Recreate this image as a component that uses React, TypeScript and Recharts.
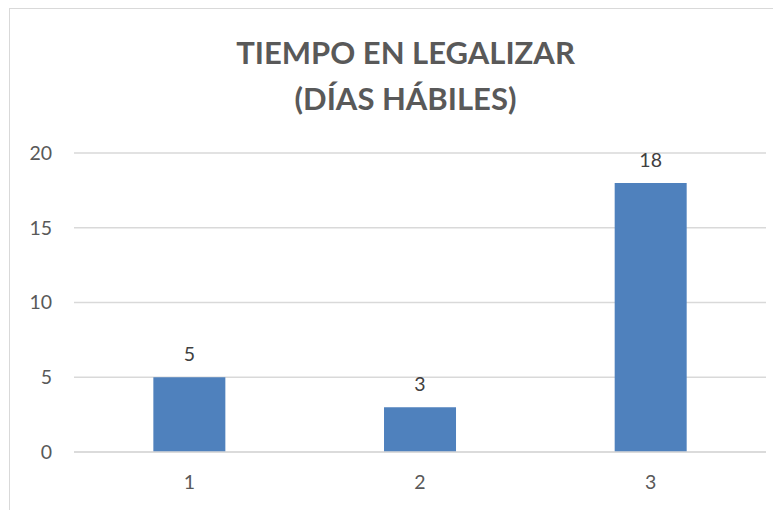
import React from "react";
import { BarChart, Bar, XAxis, YAxis, CartesianGrid, LabelList } from "recharts";

const categories = ["1", "2", "3"];
const values = [5, 3, 18];
const yTicks = [0, 5, 10, 15, 20];
const titleLines = ["TIEMPO EN LEGALIZAR", "(DÍAS HÁBILES)"];

const data = categories.map((c, i) => ({ name: c, value: values[i] }));

const FONT = "Lato, 'Open Sans', sans-serif";

export default function App() {
  return (
    <div style={{ position: "relative", width: 773, height: 502, overflow: "hidden", background: "#fff" }}>
      <div
        style={{
          position: "absolute",
          left: 1,
          top: 0,
          width: 900,
          height: 600,
          border: "1.5px solid #d9d9d9",
          boxSizing: "border-box",
        }}
      />
      <div
        style={{
          position: "absolute",
          left: 0,
          top: 21,
          width: 795,
          textAlign: "center",
          fontFamily: FONT,
          fontWeight: 700,
          fontSize: 31,
          lineHeight: "46px",
          color: "#595959",
        }}
      >
        {titleLines.map((l) => (
          <div key={l}>{l}</div>
        ))}
      </div>
      <div style={{ position: "absolute", left: 0, top: 0 }}>
        <BarChart
          width={773}
          height={502}
          data={data}
          margin={{ top: 145, right: 15, left: 0, bottom: 0 }}
          barCategoryGap="34.4%"
        >
          <CartesianGrid vertical={false} stroke="#d9d9d9" strokeWidth={1.3} />
          <XAxis
            dataKey="name"
            height={58}
            axisLine={{ stroke: "#d9d9d9", strokeWidth: 1.3 }}
            tickLine={false}
            tickSize={0}
            tickMargin={23}
            tick={{ fill: "#595959", fontSize: 19.5, fontFamily: FONT }}
          />
          <YAxis
            width={66}
            domain={[0, 20]}
            ticks={yTicks}
            axisLine={false}
            tickLine={false}
            tickSize={0}
            tickMargin={22}
            tick={{ fill: "#595959", fontSize: 19.5, fontFamily: FONT }}
          />
          <Bar dataKey="value" fill="#4f81bd" isAnimationActive={false}>
            <LabelList
              dataKey="value"
              position="top"
              offset={16}
              fill="#404040"
              fontSize={19.5}
              fontFamily={FONT}
            />
          </Bar>
        </BarChart>
      </div>
    </div>
  );
}
